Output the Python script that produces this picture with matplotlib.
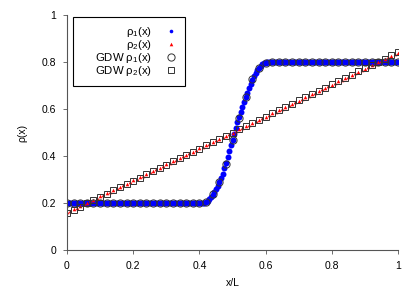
import matplotlib
matplotlib.use("Agg")
import matplotlib.pyplot as plt
from matplotlib.patches import Rectangle
import numpy as np

plt.rcParams['font.family'] = ['Liberation Sans', 'DejaVu Sans']
plt.rcParams['font.size'] = 7.5
plt.rcParams['mathtext.fontset'] = 'custom'
plt.rcParams['mathtext.rm'] = 'Liberation Sans'

# simulation rho1, 201 points on x/L
x_rho1 = np.linspace(0, 1, 201)
rho1 = ([0.2] * 82 +
        [0.200, 0.202, 0.205, 0.209, 0.215, 0.224, 0.235, 0.247, 0.260, 0.274,
         0.290, 0.307, 0.325, 0.347, 0.370, 0.395, 0.420, 0.445, 0.470, 0.495,
         0.520, 0.543, 0.565, 0.588, 0.610, 0.630, 0.650, 0.670, 0.690, 0.708,
         0.725, 0.741, 0.755, 0.766, 0.775, 0.783, 0.790, 0.794, 0.797, 0.799] +
        [0.8] * 79)

# simulation rho2, 101 points
x_rho2 = np.linspace(0, 1, 101)
rho2 = [0.160, 0.167, 0.174, 0.180, 0.187, 0.194, 0.201, 0.208, 0.214, 0.221,
        0.228, 0.235, 0.242, 0.248, 0.255, 0.262, 0.269, 0.276, 0.282, 0.289,
        0.296, 0.303, 0.310, 0.316, 0.323, 0.330, 0.337, 0.344, 0.350, 0.357,
        0.364, 0.371, 0.378, 0.384, 0.391, 0.398, 0.405, 0.412, 0.418, 0.425,
        0.432, 0.439, 0.446, 0.452, 0.459, 0.466, 0.473, 0.480, 0.486, 0.493,
        0.500, 0.507, 0.514, 0.520, 0.527, 0.534, 0.541, 0.548, 0.554, 0.561,
        0.568, 0.575, 0.582, 0.588, 0.595, 0.602, 0.609, 0.616, 0.622, 0.629,
        0.636, 0.643, 0.650, 0.656, 0.663, 0.670, 0.677, 0.684, 0.690, 0.697,
        0.704, 0.711, 0.718, 0.724, 0.731, 0.738, 0.745, 0.752, 0.758, 0.765,
        0.772, 0.779, 0.786, 0.792, 0.799, 0.806, 0.813, 0.820, 0.826, 0.833,
        0.840]

# GDW, 51 points
x_gdw = np.linspace(0, 1, 51)
gdw1 = ([0.2] * 21 +
        [0.205, 0.237, 0.288, 0.368, 0.466, 0.562, 0.652, 0.726, 0.774, 0.797] +
        [0.8] * 20)
gdw2 = [0.158, 0.172, 0.185, 0.199, 0.213, 0.226, 0.240, 0.254, 0.267, 0.281,
        0.295, 0.308, 0.322, 0.336, 0.349, 0.363, 0.377, 0.390, 0.404, 0.418,
        0.431, 0.445, 0.459, 0.472, 0.486, 0.500, 0.514, 0.527, 0.541, 0.555,
        0.568, 0.582, 0.596, 0.609, 0.623, 0.637, 0.650, 0.664, 0.678, 0.691,
        0.705, 0.719, 0.732, 0.746, 0.760, 0.773, 0.787, 0.801, 0.814, 0.828,
        0.842]

fig = plt.figure(figsize=(4.15, 2.91), dpi=100)
ax = fig.add_axes([67/415, 41/291, 331/415, 235/291])

ax.plot(x_rho1, rho1, 'o', color='#0000ff', ms=4.3, mec='none', label=r'ρ$_\mathregular{1}$(x)')
ax.plot(x_rho2, rho2, '^', color='#ff0000', ms=2.6, mec='none', label=r'ρ$_\mathregular{2}$(x)')
ax.plot(x_gdw, gdw1, 'o', mfc='none', mec='#333333', mew=0.7, ms=5.2, label=r'GDW ρ$_\mathregular{1}$(x)')
ax.plot(x_gdw, gdw2, 's', mfc='none', mec='#333333', mew=0.7, ms=5.0, label=r'GDW ρ$_\mathregular{2}$(x)')

ax.set_xlim(0, 1)
ax.set_ylim(0, 1)
ax.set_xticks([0, 0.2, 0.4, 0.6, 0.8, 1])
ax.set_xticklabels(['0', '0.2', '0.4', '0.6', '0.8', '1'])
ax.set_yticks([0, 0.2, 0.4, 0.6, 0.8, 1])
ax.set_yticklabels(['0', '0.2', '0.4', '0.6', '0.8', '1'])
ax.set_xlabel('x/L', labelpad=5)
ax.set_ylabel('ρ(x)', labelpad=10)
for s in ['top', 'right']:
    ax.spines[s].set_visible(False)
for s in ['left', 'bottom']:
    ax.spines[s].set_color('#555555')
    ax.spines[s].set_linewidth(0.8)
ax.tick_params(direction='out', length=3, width=0.6, color='#555555', pad=5)

# legend box drawn separately, entries right aligned inside it
ax.add_patch(Rectangle((0.018, 0.698), 0.3385, 0.293, transform=ax.transAxes,
                       fill=True, fc='white', ec='black', lw=0.8, zorder=5))
leg = ax.legend(loc='upper right', bbox_to_anchor=(0.343, 0.972), markerfirst=False,
                frameon=False, fontsize=8.2,
                handlelength=1.0, handletextpad=1.2, labelspacing=-0.1,
                borderpad=0.3, borderaxespad=0)
leg.set_zorder(6)
hs = leg.legend_handles
hs[0].set_markersize(2.6)
hs[1].set_markersize(2.6)

fig.savefig('out.png', dpi=100)
